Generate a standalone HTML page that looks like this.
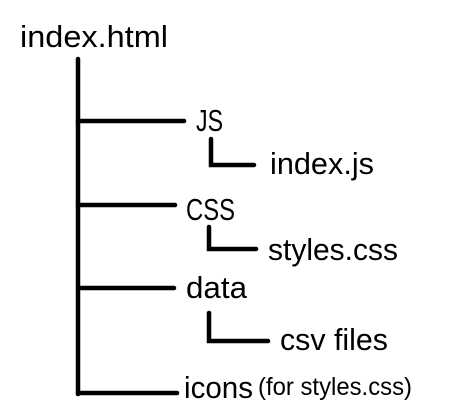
<!DOCTYPE html>
<html><head><meta charset="utf-8"><style>html,body{margin:0;padding:0;background:#fff}svg{display:block}</style></head>
<body>
<svg width="460" height="414" viewBox="0 0 460 414" xmlns="http://www.w3.org/2000/svg">
<g stroke="#000" stroke-width="4.5" fill="none" stroke-linecap="round" stroke-linejoin="miter">
<line x1="78" y1="59" x2="78" y2="394"/>
<line x1="78" y1="121" x2="184" y2="121"/>
<line x1="78" y1="205" x2="175" y2="205"/>
<line x1="78" y1="288" x2="174" y2="288"/>
<line x1="78" y1="393" x2="177" y2="393"/>
<polyline points="211,139 211,165 254,165"/>
<polyline points="209,227 209,249 256,249"/>
<polyline points="209,313 209,341 268,341"/>
</g>
<g font-family="Liberation Sans, sans-serif" fill="#000" font-size="31">
<text x="20" y="47" textLength="148" lengthAdjust="spacingAndGlyphs">index.html</text>
<text x="196" y="131" textLength="27" lengthAdjust="spacingAndGlyphs">JS</text>
<text x="270" y="174" textLength="104" lengthAdjust="spacingAndGlyphs">index.js</text>
<text x="186" y="220" textLength="49" lengthAdjust="spacingAndGlyphs">CSS</text>
<text x="268" y="260" textLength="130" lengthAdjust="spacingAndGlyphs">styles.css</text>
<text x="186" y="298" textLength="61" lengthAdjust="spacingAndGlyphs">data</text>
<text x="280" y="350" textLength="108" lengthAdjust="spacingAndGlyphs">csv files</text>
<text x="184" y="398" textLength="69" lengthAdjust="spacingAndGlyphs">icons</text>
<text x="258" y="395" font-size="25" textLength="154" lengthAdjust="spacingAndGlyphs">(for styles.css)</text>
</g>
</svg>
</body></html>
